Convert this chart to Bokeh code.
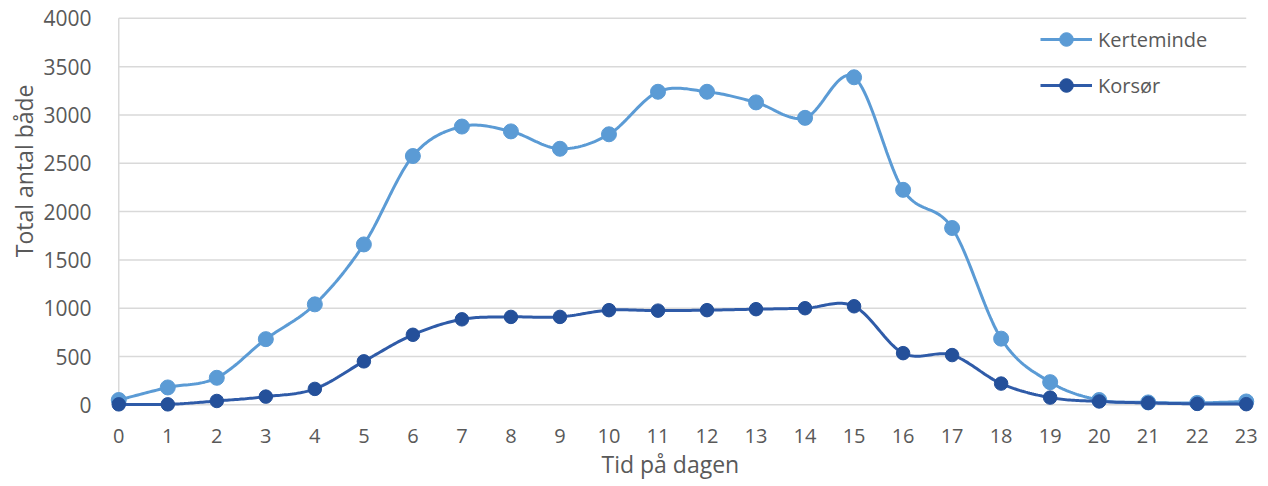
import numpy as np
from bokeh.plotting import figure
from bokeh.models import Range1d, Legend, LegendItem, Title, FixedTicker
from bokeh.embed import file_html
from bokeh.resources import INLINE

# Hour of day
hours = list(range(24))
x_tick_labels = [str(h) for h in hours]

# Total number of boats per hour
kerteminde = [50, 180, 280, 680, 1040, 1660, 2575, 2880, 2830, 2650, 2800, 3240,
              3240, 3130, 2970, 3390, 2225, 1830, 685, 235, 50, 25, 20, 35]
korsoer = [5, 5, 40, 85, 165, 450, 725, 885, 910, 910, 980, 975,
           980, 990, 1000, 1020, 535, 515, 220, 75, 35, 20, 10, 7]

y_ticks = [0, 500, 1000, 1500, 2000, 2500, 3000, 3500, 4000]

FONT = "Open Sans"
TEXT_COLOR = "#595959"
GRID_COLOR = "#D9D9D9"
LIGHT_BLUE = "#5B9BD5"
DARK_LINE = "#2F5BA8"
DARK_MARK = "#24509A"


def smooth(xs, ys, steps=24):
    """Catmull-Rom style Bezier smoothing through every point."""
    xs = np.asarray(xs, float)
    ys = np.asarray(ys, float)
    n = len(xs)
    px = np.concatenate([[xs[0]], xs, [xs[-1]]])
    py = np.concatenate([[ys[0]], ys, [ys[-1]]])
    out_x, out_y = [], []
    t = np.linspace(0, 1, steps, endpoint=False)
    for i in range(n - 1):
        p0x, p1x, p2x, p3x = px[i], px[i + 1], px[i + 2], px[i + 3]
        p0y, p1y, p2y, p3y = py[i], py[i + 1], py[i + 2], py[i + 3]
        c1x = p1x + (p2x - p0x) / 6
        c1y = p1y + (p2y - p0y) / 6
        c2x = p2x - (p3x - p1x) / 6
        c2y = p2y - (p3y - p1y) / 6
        a = (1 - t) ** 3
        b = 3 * (1 - t) ** 2 * t
        c = 3 * (1 - t) * t ** 2
        d = t ** 3
        out_x.extend(a * p1x + b * c1x + c * c2x + d * p2x)
        out_y.extend(a * p1y + b * c1y + c * c2y + d * p2y)
    out_x.append(xs[-1])
    out_y.append(ys[-1])
    return out_x, out_y


p = figure(width=1268, height=486, output_backend="svg", toolbar_location=None,
           x_range=Range1d(-0.25, 23.25), y_range=Range1d(-100, 4050),
           min_border_left=106, min_border_right=10, min_border_top=13,
           min_border_bottom=72)
p.outline_line_color = None
p.background_fill_color = "white"
p.border_fill_color = "white"
p.xgrid.visible = False
p.ygrid.visible = False

# Axes: labels only, no lines or ticks
for ax in (p.xaxis[0], p.yaxis[0]):
    ax.axis_line_color = None
    ax.major_tick_line_color = None
    ax.minor_tick_line_color = None
    ax.major_label_text_font = FONT
    ax.major_label_text_color = TEXT_COLOR
p.xaxis.major_label_text_font_size = "20px"
p.yaxis.major_label_text_font_size = "21px"
p.xaxis.ticker = FixedTicker(ticks=hours)
p.xaxis.major_label_overrides = {h: lab for h, lab in zip(hours, x_tick_labels)}
p.xaxis.major_label_standoff = 8
p.yaxis.ticker = FixedTicker(ticks=y_ticks)
p.yaxis.major_label_standoff = 9

# Axis titles
p.add_layout(Title(text="Total antal både", align="right", offset=71,
                   vertical_align="middle", text_font=FONT, text_font_size="23px",
                   text_font_style="normal", text_color=TEXT_COLOR, standoff=0), "left")
p.add_layout(Title(text="Tid på dagen", align="left", offset=495,
                   vertical_align="top", text_font=FONT, text_font_size="23px",
                   text_font_style="normal", text_color=TEXT_COLOR, standoff=4), "below")

# Horizontal gridlines and the vertical value axis line
p.segment(x0=[hours[0]] * len(y_ticks), y0=y_ticks, x1=[hours[-1]] * len(y_ticks), y1=y_ticks,
          line_color=GRID_COLOR, line_width=1.5)
p.segment(x0=[hours[0]], y0=[y_ticks[0]], x1=[hours[0]], y1=[y_ticks[-1]],
          line_color=GRID_COLOR, line_width=1.5)

kx, ky = smooth(hours, kerteminde)
k_line = p.line(kx, ky, line_color=LIGHT_BLUE, line_width=3)
k_pts = p.scatter(hours, kerteminde, size=15, fill_color=LIGHT_BLUE, line_color=LIGHT_BLUE)

dx, dy = smooth(hours, korsoer)
d_line = p.line(dx, dy, line_color=DARK_LINE, line_width=3)
d_pts = p.scatter(hours, korsoer, size=13.5, fill_color=DARK_MARK, line_color=DARK_MARK)

legend = Legend(items=[LegendItem(label="Kerteminde", renderers=[k_line, k_pts]),
                       LegendItem(label="Korsør", renderers=[d_line, d_pts])],
                location=(934, 312), orientation="vertical",
                glyph_width=52, glyph_height=34, label_height=34, spacing=12,
                label_standoff=6, padding=0, margin=0,
                border_line_color=None, background_fill_alpha=0,
                label_text_font=FONT, label_text_font_size="20px",
                label_text_color=TEXT_COLOR)
p.add_layout(legend, "center")

open("out.html", "w").write(file_html(p, INLINE))
